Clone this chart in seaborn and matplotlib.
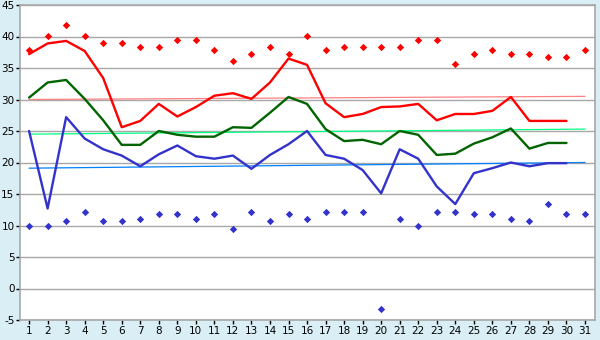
import numpy as np
import pandas as pd
import matplotlib
matplotlib.use("Agg")
import matplotlib.pyplot as plt
import seaborn as sns

# daily values
days = list(range(1, 32))
max_pts = [37.8, 40.1, 41.8, 40.1, 38.9, 38.9, 38.3, 38.3, 39.4, 39.4,
           37.8, 36.1, 37.2, 38.3, 37.2, 40.1, 37.8, 38.3, 38.3, 38.3,
           38.3, 39.4, 39.4, 35.6, 37.2, 37.8, 37.2, 37.2, 36.7, 36.7, 37.8]
min_pts = [10.0, 10.0, 10.7, 12.2, 10.7, 10.7, 11.1, 11.8, 11.8, 11.1,
           11.8, 9.4, 12.2, 10.7, 11.8, 11.1, 12.2, 12.2, 12.2, -3.3,
           11.1, 10.0, 12.2, 12.2, 11.8, 11.8, 11.1, 10.7, 13.4, 11.8, 11.8]
avg_max = [37.2, 38.9, 39.3, 37.7, 33.4, 25.6, 26.6, 29.3, 27.3, 28.8,
           30.6, 31.0, 30.1, 32.7, 36.5, 35.5, 29.4, 27.2, 27.7, 28.8,
           28.9, 29.3, 26.7, 27.7, 27.7, 28.2, 30.4, 26.6, 26.6, 26.6]
avg_mean = [30.3, 32.7, 33.1, 30.1, 26.7, 22.8, 22.8, 25.0, 24.4, 24.1,
            24.1, 25.6, 25.5, 27.9, 30.4, 29.3, 25.3, 23.4, 23.6, 22.9,
            25.0, 24.4, 21.2, 21.4, 23.0, 24.0, 25.4, 22.2, 23.1, 23.1]
avg_min = [25.0, 12.7, 27.2, 23.8, 22.1, 21.1, 19.4, 21.3, 22.7, 21.0,
           20.6, 21.1, 19.0, 21.2, 22.9, 25.0, 21.2, 20.6, 18.8, 15.1,
           22.1, 20.6, 16.2, 13.4, 18.3, 19.1, 20.0, 19.4, 19.9, 19.9]
# normal (long-term) lines: value on day 1 and day 31
norm_hi = [30.0, 30.5]
norm_mid = [24.5, 25.3]
norm_lo = [19.1, 20.0]

df_pts = pd.DataFrame({"day": days, "max": max_pts, "min": min_pts})
n = len(avg_max)
df = pd.DataFrame({"day": days[:n], "hi": avg_max, "mid": avg_mean, "lo": avg_min})
df_norm = pd.DataFrame({"day": [days[0], days[-1]], "hi": norm_hi,
                        "mid": norm_mid, "lo": norm_lo})

sns.set_style("white")
plt.rcParams['font.family'] = ['DejaVu Sans']
plt.rcParams['axes.unicode_minus'] = False

fig = plt.figure(figsize=(6, 3.4), dpi=100, facecolor="#d9eef5")
ax = fig.add_axes([20/600, 20/340, 575/600, 315/340])
ax.set_facecolor("white")

sns.lineplot(data=df_norm, x="day", y="hi", color="#ff8080", linewidth=0.9, ax=ax)
sns.lineplot(data=df_norm, x="day", y="mid", color="#00ff80", linewidth=0.9, ax=ax)
sns.lineplot(data=df_norm, x="day", y="lo", color="#0080ff", linewidth=0.9, ax=ax)

sns.lineplot(data=df, x="day", y="hi", color="#ff0000", linewidth=1.7, ax=ax)
sns.lineplot(data=df, x="day", y="mid", color="#006400", linewidth=1.7, ax=ax)
sns.lineplot(data=df, x="day", y="lo", color="#3333cc", linewidth=1.7, ax=ax)

sns.scatterplot(data=df_pts, x="day", y="max", color="#ff0000", marker="D",
                s=14, linewidth=0, ax=ax)
sns.scatterplot(data=df_pts, x="day", y="min", color="#3333cc", marker="D",
                s=14, linewidth=0, ax=ax)

ax.set_xlim(0.51, 31.54)
ax.set_ylim(-5, 45)
ax.set_xticks(days)
ax.set_yticks(range(-5, 46, 5))
ax.yaxis.grid(True, color="#a8a8a8", linewidth=1)
ax.set_axisbelow(True)
ax.set_xlabel("")
ax.set_ylabel("")
for s in ax.spines.values():
    s.set_color("#a8a8a8")
    s.set_linewidth(1.2)
ax.tick_params(axis="both", labelsize=7.5, colors="black", length=3, width=1,
               direction="out", pad=1)
ax.tick_params(axis="x", bottom=True)
ax.tick_params(axis="y", left=True)

fig.savefig("out.png", dpi=100, facecolor=fig.get_facecolor())
